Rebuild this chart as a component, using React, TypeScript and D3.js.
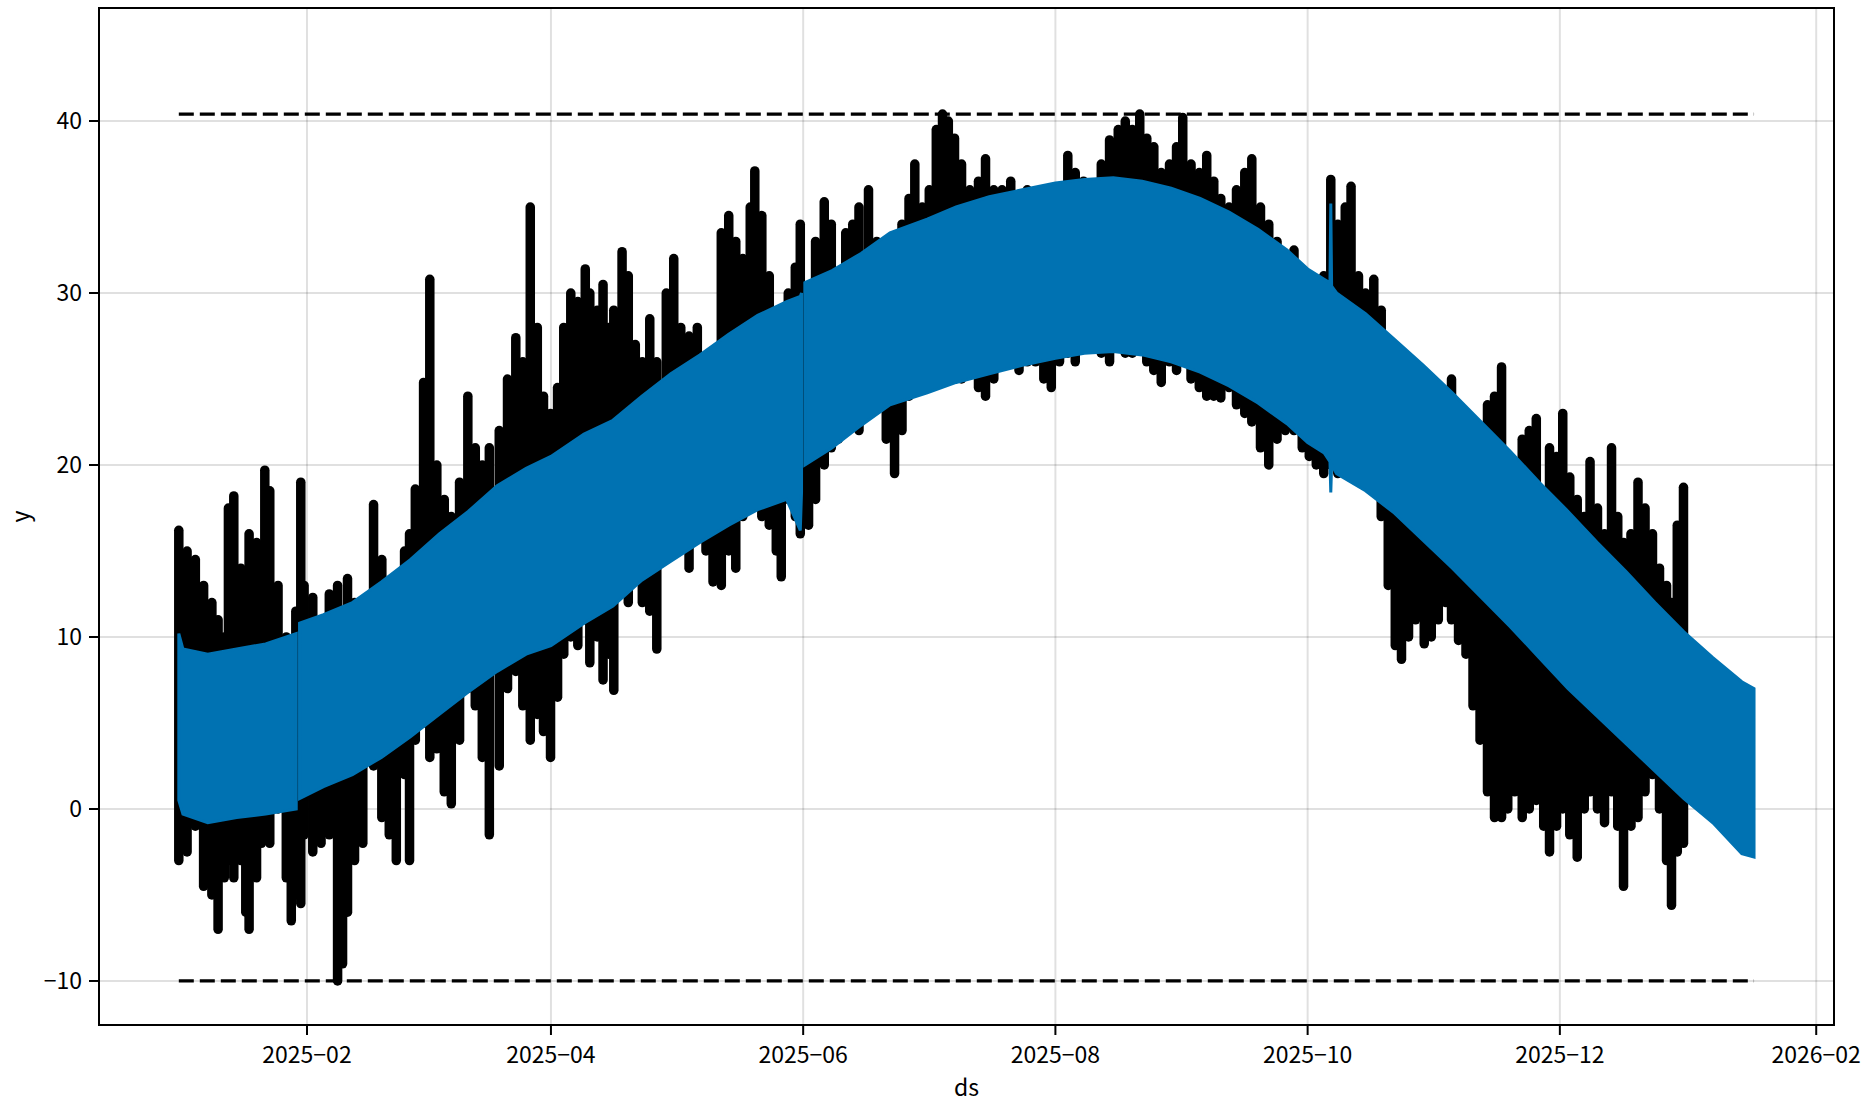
import React from "react";
import * as d3 from "d3";

// ---------- data ----------
const START = Date.UTC(2025, 0, 1);
const DAY = 86400000;

// x axis tick labels (every two months)
const xTickLabels = ["2025-02", "2025-04", "2025-06", "2025-08", "2025-10", "2025-12", "2026-02"];
// y axis ticks
const yTicks = [-10, 0, 10, 20, 30, 40];

// cap / floor (dashed lines)
const capValue = 40.4;
const floorValue = -10;
const seriesEndDay = 380.96; // last forecast hour, days after 2025-01-01

// observed values: each entry is one daily cluster of hourly points (day offset, min, max)
const obsDay = [
  0, 2, 4, 6, 8, 9.5, 11, 12, 13.3, 15, 16.2, 17, 18.8, 20, 20.8, 22, 24, 26, 27.2, 28.3, 29.5, 30.3,
  32.4, 34.4, 36.4, 38.4, 39.6, 40.8, 42.5, 44.5, 47.1, 49.1, 50.9, 52.6, 54.6, 55.8, 57.2,
  59.2, 60.7, 62.4, 64.2, 65.9, 67.9, 69.9, 71.7, 73.4, 75.1, 77.5, 79.5, 81.5, 83.2, 85.0, 86.7, 88.2, 89.9,
  91.6, 93.1, 94.8, 96.5, 98.3, 99.4, 101.2, 102.6, 104.0, 105.2, 107.2, 108.7, 110.4, 112.1, 113.9, 115.6, 117.9, 119.7,
  121.4, 123.4, 125.4, 127.5, 129.2, 131.2, 133.0, 134.7, 136.4, 138.2, 139.3, 141.0, 142.8, 144.5, 145.7, 147.4, 149.1, 150.3,
  152.3, 154.0, 156.1, 157.8, 159.5, 161.3, 163.0, 164.5, 166.8, 168.8, 171.1, 173.1, 174.9, 176.6, 178.0, 179.8,
  181.5, 183.2, 184.7, 186.1, 187.6, 189.3, 191.3, 193.4, 195.1, 197.1, 199.1, 201.2, 203.2, 205.2, 207.2, 209.2, 211.0,
  213.0, 215.0, 216.8, 218.8, 220.8, 223.1, 225.1, 227.2, 228.9, 230.6, 232.4, 234.1, 235.8, 237.6, 239.6, 241.3, 242.8,
  244.8, 246.8, 248.6, 250.3, 252.0, 254.0, 255.8, 257.8, 259.5, 261.6, 263.6, 265.6, 267.6, 269.7, 271.7, 273.4,
  275.1, 276.9, 278.6, 280.3, 282.1, 283.5, 285.3, 287.0, 289.0, 290.8, 292.5, 294.2, 295.7, 297.4, 299.1, 301.2, 302.9, 304.6,
  306.4, 307.8, 309.5, 311.3, 313.0, 314.7, 316.5, 318.2, 319.9, 321.4, 323.1, 324.9, 326.6, 328.3, 330.1, 331.5, 333.2, 334.7,
  336.4, 338.2, 339.9, 341.3, 343.1, 344.8, 346.5, 348.0, 349.4, 351.2, 352.9, 354.6, 356.4, 358.1, 359.8, 361.0, 362.4, 363.9,
];
const obsLo = [
  -3, -2.5, -1, -4.5, -5, -7, -4, -3, -4, -3, -6, -7, -4, -2, -1, -2, 0, -4, -6.5, -5, -5.5, -1.5,
  -2.5, -2, -1.5, -10, -9, -6, -3, -2, 2.5, -0.5, -1.5, -3, 2, -3, 4,
  5, 3, 3.5, 1, 0.3, 4, 7, 6, 3, -1.5, 2.5, 7, 8, 6, 4, 5.5, 4.5, 3,
  6.5, 9, 10, 9.5, 11, 8.5, 10, 7.5, 9, 6.9, 14, 12, 13.5, 12, 11.5, 9.3, 15, 15,
  15.5, 14, 16, 15, 13.2, 13, 15, 14, 17, 18, 19, 17, 16.5, 15, 13.5, 18, 17, 16,
  16.5, 18, 20, 21, 21.5, 22, 22.5, 22, 23, 24, 21.5, 19.5, 22, 24, 25, 25,
  25.5, 26, 26, 26.5, 26, 25, 25.5, 24.5, 24, 25, 26, 26, 25.5, 26, 26, 25, 24.5,
  26, 26.5, 26, 27, 27, 26.5, 26, 27, 26.5, 26.5, 27, 26, 25.5, 24.8, 26, 25.5, 26,
  25, 24.5, 24, 24, 23.9, 24.5, 23.5, 23, 22.5, 21, 20, 21.5, 22, 22, 21, 20.5,
  20, 19.5, 20, 19.5, 20, 21, 21, 19, 18.5, 17, 13, 9.5, 8.7, 10, 11, 9.6, 10, 11,
  12, 11, 9.8, 9, 6, 4, 1, -0.5, -0.5, 0, 1, -0.5, 0, 0.5, -1, -2.5, -1, 0,
  -1.5, -2.8, 0, 1, 0, -0.8, 1, -1, -4.5, -1, -0.5, 1, 2, 0, -3, -5.6, -2.5, -2,
];
const obsHi = [
  16.2, 15, 14.5, 13, 12, 11, 10, 17.5, 18.2, 14, 13, 16, 15.5, 14, 19.7, 18.5, 13, 10, 9, 11.5, 19, 13,
  12.3, 11, 12.5, 13, 11, 13.4, 12, 10, 17.7, 14.5, 12, 13, 15, 16, 18.6,
  24.8, 30.8, 20, 18, 17, 19, 24, 21, 20, 21, 22, 25, 27.4, 26, 35, 28, 24, 23,
  24.5, 28, 30, 29.5, 31.4, 30, 29, 30.5, 28, 29, 32.4, 31, 27, 26, 28.5, 26, 30, 32,
  28, 27.5, 28, 26, 25.5, 33.5, 34.5, 33, 32, 35, 37.1, 34.5, 31, 28, 27, 30, 31.5, 34,
  28.5, 33, 35.3, 34, 30, 33.5, 34, 35, 36, 33, 33, 32, 34, 35.5, 37.5, 35,
  36, 39.5, 40.4, 40, 39, 37.5, 36, 36.5, 37.8, 36, 36, 36.5, 35.5, 36, 35.5, 35, 34,
  36, 38, 37, 36.5, 36, 37.5, 38.9, 39.5, 40, 39.5, 40.4, 39, 38.5, 37, 37.5, 38.5, 40.2,
  37.5, 37, 38, 36.5, 35.5, 35, 36, 37, 37.8, 35, 34, 33, 32, 32.5, 31, 30,
  30.5, 31, 36.6, 34, 35, 36.2, 31, 30, 30.8, 29, 27, 25, 22, 23, 22, 23, 24, 24.5,
  24, 25, 23, 22, 21.5, 21, 23.5, 24, 25.7, 19, 20, 21.5, 22, 22.7, 18, 21, 20.5, 23,
  19.3, 18, 17, 20.2, 17.5, 16, 21, 17, 15.5, 16, 19, 17.5, 16, 14, 13, 12, 16.5, 18.7,
];

// fitted hourly curve, daily envelope (day offset, daily low, daily high); null = gap in series
const bandDay = [
  0, 1, 7, 14, 21, 28.4, 28.8, 29.2, 35, 42, 49, 56, 63, 70, 77, 84, 90, 98, 105, 112, 119, 126, 133, 140, 147,
  150.3, 150.6, 151.0, 151.4, 158, 165, 172, 181, 188, 196, 204, 212, 219, 226, 233, 240, 247, 254, 261, 268, 273,
  277, 278.4, 278.6, 278.8, 280, 287, 294, 301, 308, 315, 322, 329, 336, 343, 350, 357, 364, 371, 378, 380.96,
];
const bandLo: (number | null)[] = [
  0.5, -0.3, -0.8, -0.5, -0.3, 0.0, null, 0.6, 1.3, 2.0, 3.0, 4.2, 5.5, 6.8, 8.0, 9.0, 9.5, 10.8, 11.8, 13.3, 14.4, 15.5, 16.5, 17.4, 18.0,
  16.2, 18.4, null, 20.0, 21.0, 22.3, 23.5, 24.2, 24.8, 25.3, 25.8, 26.2, 26.5, 26.6, 26.4, 26.0, 25.4, 24.6, 23.6, 22.4, 21.3,
  20.7, 20.2, 18.4, 20.0, 19.5, 18.5, 17.2, 15.6, 14.0, 12.3, 10.6, 8.8, 7.0, 5.4, 3.8, 2.2, 0.6, -0.8, -2.6, -2.8,
];
const bandHi: (number | null)[] = [
  10.2, 9.3, 9.0, 9.3, 9.6, 10.2, null, 10.8, 11.3, 12.0, 13.2, 14.5, 16.0, 17.3, 18.8, 19.8, 20.5, 21.8, 22.6, 24.0, 25.3, 26.4, 27.6, 28.7, 29.5,
  29.8, 30.0, null, 30.6, 31.3, 32.3, 33.5, 34.3, 35.0, 35.6, 36.0, 36.4, 36.6, 36.7, 36.5, 36.1, 35.5, 34.7, 33.7, 32.5, 31.4,
  30.8, 30.6, 35.2, 30.4, 30.0, 28.8, 27.3, 25.8, 24.2, 22.5, 20.8, 19.0, 17.3, 15.5, 13.8, 12.0, 10.3, 8.8, 7.4, 7.0,
];

// ---------- chart ----------
const W = 1873;
const H = 1102;
const M = { left: 99, right: 1834, top: 8, bottom: 1025 };
const FONT = "'Noto Sans CJK JP', 'Noto Sans', sans-serif";
const BLUE = "#0072b2";

const toDate = (d: number) => new Date(START + d * DAY);

export default function App() {
  const x = d3
    .scaleUtc()
    .domain([toDate(-19.3), toDate(400.3)])
    .range([M.left, M.right]);
  const y = d3.scaleLinear().domain([-12.56, 46.57]).range([M.bottom, M.top]);

  const xTicks = xTickLabels.map((s) => d3.utcParse("%Y-%m")(s) as Date);
  const fmt = (v: number) => (v < 0 ? "\u2212" + Math.abs(v) : String(v));

  const idx = d3.range(bandDay.length);
  const area = d3
    .area<number>()
    .defined((i) => bandLo[i] !== null && bandHi[i] !== null)
    .x((i) => x(toDate(bandDay[i])))
    .y0((i) => y(bandLo[i] as number))
    .y1((i) => y(bandHi[i] as number));

  const x0 = x(toDate(0));
  const x1 = x(toDate(seriesEndDay));

  return (
    <svg
      width={W}
      height={H}
      style={{ position: "absolute", left: 0, top: 0, background: "#fff" }}
      fontFamily={FONT}
    >
      <rect x={0} y={0} width={W} height={H} fill="#fff" />
      {/* grid */}
      {xTicks.map((t, i) => (
        <line key={"gx" + i} x1={x(t)} x2={x(t)} y1={M.top} y2={M.bottom} stroke="#000" strokeOpacity={0.12} strokeWidth={2} />
      ))}
      {yTicks.map((v) => (
        <line key={"gy" + v} x1={M.left} x2={M.right} y1={y(v)} y2={y(v)} stroke="#000" strokeOpacity={0.12} strokeWidth={2} />
      ))}

      {/* cap & floor */}
      {[capValue, floorValue].map((v) => (
        <line key={"cf" + v} x1={x0} x2={x1} y1={y(v)} y2={y(v)} stroke="#000" strokeWidth={3.2} strokeDasharray="15 6" />
      ))}

      {/* observations */}
      <g stroke="#000" strokeWidth={9.5} strokeLinecap="round">
        {obsDay.map((d, i) => (
          <line key={"o" + i} x1={x(toDate(d))} x2={x(toDate(d))} y1={y(obsLo[i])} y2={y(obsHi[i])} />
        ))}
      </g>

      {/* fitted curve envelope */}
      <path d={area(idx) || ""} fill={BLUE} stroke={BLUE} strokeWidth={3} strokeLinejoin="miter" />

      {/* frame */}
      <rect x={M.left} y={M.top} width={M.right - M.left} height={M.bottom - M.top} fill="none" stroke="#000" strokeWidth={2} />

      {/* x ticks */}
      {xTicks.map((t, i) => (
        <g key={"tx" + i}>
          <line x1={x(t)} x2={x(t)} y1={M.bottom} y2={M.bottom + 10} stroke="#000" strokeWidth={2} />
          <text x={x(t)} y={1063} textAnchor="middle" fontSize={23} fill="#000">
            {xTickLabels[i].replace("-", "\u2212")}
          </text>
        </g>
      ))}
      {/* y ticks */}
      {yTicks.map((v) => (
        <g key={"ty" + v}>
          <line x1={M.left - 10} x2={M.left} y1={y(v)} y2={y(v)} stroke="#000" strokeWidth={2} />
          <text x={M.left - 17} y={y(v) + 8} textAnchor="end" fontSize={23} fill="#000">
            {fmt(v)}
          </text>
        </g>
      ))}

      {/* axis labels */}
      <text x={(M.left + M.right) / 2} y={1096} textAnchor="middle" fontSize={23} fill="#000">
        ds
      </text>
      <text transform={`translate(29,${(M.top + M.bottom) / 2}) rotate(-90)`} textAnchor="middle" fontSize={23} fill="#000">
        y
      </text>
    </svg>
  );
}
